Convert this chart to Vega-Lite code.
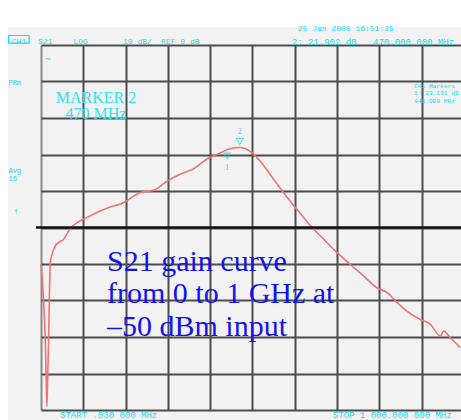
{
  "$schema": "https://vega.github.io/schema/vega-lite/v6.json",
  "autosize": {"type": "none"},
  "padding": {"left": 41, "top": 45, "right": 0, "bottom": 10},
  "width": 420,
  "height": 365,
  "background": "#f2f2f2",
  "config": {
    "view": {"stroke": null},
    "axis": {
      "grid": true,
      "labels": false,
      "ticks": false,
      "domain": false,
      "gridWidth": 2,
      "gridOpacity": 1,
      "labelOverlap": false
    }
  },
  "data": {"values": [{}]},
  "datasets": {
    "s21": [
      {"freq": 0.03, "gain": -10},
      {"freq": 2, "gain": -13},
      {"freq": 4.7, "gain": -17},
      {"freq": 7, "gain": -22},
      {"freq": 10, "gain": -30.6},
      {"freq": 12, "gain": -40},
      {"freq": 14, "gain": -49},
      {"freq": 16, "gain": -40},
      {"freq": 18, "gain": -30.6},
      {"freq": 20, "gain": -18},
      {"freq": 22, "gain": -9.6},
      {"freq": 27, "gain": -7},
      {"freq": 34, "gain": -5},
      {"freq": 43, "gain": -4},
      {"freq": 53, "gain": -3.3},
      {"freq": 65, "gain": -1},
      {"freq": 76, "gain": 0.5},
      {"freq": 85, "gain": 1.3},
      {"freq": 108, "gain": 2.7},
      {"freq": 140, "gain": 4.5},
      {"freq": 164, "gain": 5.6},
      {"freq": 195, "gain": 6.8},
      {"freq": 219, "gain": 8.6},
      {"freq": 235, "gain": 9.6},
      {"freq": 266, "gain": 10.2},
      {"freq": 298, "gain": 12.7},
      {"freq": 329, "gain": 14.6},
      {"freq": 361, "gain": 16.1},
      {"freq": 392, "gain": 18.7},
      {"freq": 416, "gain": 20.0},
      {"freq": 447, "gain": 21.6},
      {"freq": 470, "gain": 21.9},
      {"freq": 495, "gain": 20.8},
      {"freq": 518, "gain": 18.2},
      {"freq": 550, "gain": 13.2},
      {"freq": 573, "gain": 9.6},
      {"freq": 605, "gain": 5.0},
      {"freq": 641, "gain": 0},
      {"freq": 668, "gain": -3.2},
      {"freq": 700, "gain": -6.9},
      {"freq": 731, "gain": -10.1},
      {"freq": 763, "gain": -13.3},
      {"freq": 794, "gain": -16.5},
      {"freq": 818, "gain": -17.8},
      {"freq": 842, "gain": -20.6},
      {"freq": 865, "gain": -22.9},
      {"freq": 897, "gain": -25.2},
      {"freq": 920, "gain": -26.5},
      {"freq": 944, "gain": -29.7},
      {"freq": 952, "gain": -28.4},
      {"freq": 968, "gain": -30.2},
      {"freq": 991, "gain": -32.9}
    ]
  },
  "layer": [
    {
      "description": "S21 trace",
      "data": {"name": "s21"},
      "mark": {"type": "line", "color": "#f07474", "strokeWidth": 1.6, "interpolate": "monotone"},
      "encoding": {
        "x": {
          "field": "freq",
          "type": "quantitative",
          "title": null,
          "scale": {"domain": [0, 993], "nice": false, "zero": false},
          "axis": {
            "values": [0, 100, 200, 300, 400, 500, 600, 700, 800, 900],
            "gridColor": {"condition": {"test": "datum.value === 0", "value": "#8a8a8a"}, "value": "#4c4c4c"}
          }
        },
        "y": {
          "field": "gain",
          "type": "quantitative",
          "title": null,
          "scale": {"domain": [-50, 50], "nice": false, "zero": false},
          "axis": {
            "values": [-50, -40, -30, -20, -10, 0, 10, 20, 30, 40, 50],
            "tickCount": 11,
            "gridColor": "#4c4c4c"
          }
        }
      }
    },
    {
      "description": "white strip above the screen area",
      "mark": {"type": "rect", "color": "white", "clip": false},
      "encoding": {
        "x": {"datum": -120, "type": "quantitative", "title": null},
        "x2": {"datum": 1000},
        "y": {"datum": 54.9, "type": "quantitative", "title": null},
        "y2": {"datum": 70}
      }
    },
    {
      "description": "white strip left of the screen area",
      "mark": {"type": "rect", "color": "white", "clip": false},
      "encoding": {
        "x": {"datum": -120, "type": "quantitative", "title": null},
        "x2": {"datum": -78},
        "y": {"datum": -60, "type": "quantitative", "title": null},
        "y2": {"datum": 70}
      }
    },
    {
      "description": "reference level line at 0 dB",
      "mark": {"type": "rule", "color": "#111111", "strokeWidth": 2.5, "clip": false},
      "encoding": {
        "x": {"datum": -12, "type": "quantitative", "title": null},
        "x2": {"datum": 1000},
        "y": {"datum": 0, "type": "quantitative", "title": null}
      }
    },
    {
      "description": "marker 2 symbol",
      "mark": {"type": "point", "shape": "triangle-down", "filled": false, "color": "#22d8ee", "size": 45, "strokeWidth": 1.2},
      "encoding": {
        "x": {"datum": 470, "type": "quantitative", "title": null},
        "y": {"datum": 23.6, "type": "quantitative", "title": null}
      }
    },
    {
      "description": "marker 1 symbol",
      "mark": {"type": "point", "shape": "triangle-down", "filled": false, "color": "#22d8ee", "size": 40, "strokeWidth": 1.2},
      "encoding": {
        "x": {"datum": 440, "type": "quantitative", "title": null},
        "y": {"datum": 19.6, "type": "quantitative", "title": null}
      }
    },
    {
      "mark": {"type": "text", "text": "2", "color": "#22d8ee", "font": "Liberation Serif", "fontSize": 8, "align": "center"},
      "encoding": {
        "x": {"datum": 470, "type": "quantitative", "title": null},
        "y": {"datum": 26.2, "type": "quantitative", "title": null}
      }
    },
    {
      "mark": {"type": "text", "text": "1", "color": "#22d8ee", "font": "Liberation Serif", "fontSize": 8, "align": "center"},
      "encoding": {
        "x": {"datum": 440, "type": "quantitative", "title": null},
        "y": {"datum": 16.2, "type": "quantitative", "title": null}
      }
    },
    {
      "mark": {"type": "text", "text": ["MARKER 2", "470 MHz"], "lineHeight": 16.5, "color": "#2ee2f0", "font": "Liberation Serif", "fontSize": 16, "align": "center"},
      "encoding": {
        "x": {"datum": 130, "type": "quantitative", "title": null},
        "y": {"datum": 35.5, "type": "quantitative", "title": null}
      }
    },
    {
      "mark": {"type": "text", "text": ["S21 gain curve", "from 0 to 1 GHz at", "–50 dBm input"], "lineHeight": 32.5, "color": "#1212f0", "font": "Liberation Serif", "fontSize": 30, "align": "left"},
      "encoding": {
        "x": {"datum": 156, "type": "quantitative", "title": null},
        "y": {"datum": -9.45, "type": "quantitative", "title": null}
      }
    },
    {
      "description": "CH1 badge",
      "mark": {"type": "rect", "filled": false, "stroke": "#22d8ee", "strokeWidth": 1.2, "clip": false},
      "encoding": {
        "x": {"datum": -77, "type": "quantitative", "title": null},
        "x2": {"datum": -28},
        "y": {"datum": 52.6, "type": "quantitative", "title": null},
        "y2": {"datum": 50.5}
      }
    },
    {
      "mark": {"type": "text", "text": "CH1", "color": "#22d8ee", "font": "Liberation Mono", "fontSize": 8, "align": "center"},
      "encoding": {
        "x": {"datum": -52, "type": "quantitative", "title": null},
        "y": {"datum": 50.9, "type": "quantitative", "title": null}
      }
    },
    {
      "mark": {"type": "text", "text": "S21", "color": "#22d8ee", "font": "Liberation Mono", "fontSize": 8, "align": "left"},
      "encoding": {
        "x": {"datum": -7, "type": "quantitative", "title": null},
        "y": {"datum": 50.9, "type": "quantitative", "title": null}
      }
    },
    {
      "mark": {"type": "text", "text": "LOG", "color": "#22d8ee", "font": "Liberation Mono", "fontSize": 8, "align": "left"},
      "encoding": {
        "x": {"datum": 76, "type": "quantitative", "title": null},
        "y": {"datum": 50.9, "type": "quantitative", "title": null}
      }
    },
    {
      "mark": {"type": "text", "text": "10 dB/", "color": "#22d8ee", "font": "Liberation Mono", "fontSize": 8, "align": "left"},
      "encoding": {
        "x": {"datum": 194, "type": "quantitative", "title": null},
        "y": {"datum": 50.9, "type": "quantitative", "title": null}
      }
    },
    {
      "mark": {"type": "text", "text": "REF 0 dB", "color": "#22d8ee", "font": "Liberation Mono", "fontSize": 8, "align": "left"},
      "encoding": {
        "x": {"datum": 284, "type": "quantitative", "title": null},
        "y": {"datum": 50.9, "type": "quantitative", "title": null}
      }
    },
    {
      "mark": {"type": "text", "text": "2: 21.902 dB", "color": "#22d8ee", "font": "Liberation Mono", "fontSize": 9, "align": "left"},
      "encoding": {
        "x": {"datum": 593, "type": "quantitative", "title": null},
        "y": {"datum": 50.9, "type": "quantitative", "title": null}
      }
    },
    {
      "mark": {"type": "text", "text": "470.000 000 MHz", "color": "#22d8ee", "font": "Liberation Mono", "fontSize": 9, "align": "left"},
      "encoding": {
        "x": {"datum": 785, "type": "quantitative", "title": null},
        "y": {"datum": 50.9, "type": "quantitative", "title": null}
      }
    },
    {
      "mark": {"type": "text", "text": "25 Jan 2000 16:51:25", "color": "#22d8ee", "font": "Liberation Mono", "fontSize": 8, "align": "left"},
      "encoding": {
        "x": {"datum": 607, "type": "quantitative", "title": null},
        "y": {"datum": 54.3, "type": "quantitative", "title": null}
      }
    },
    {
      "mark": {"type": "text", "text": "PRm", "color": "#22d8ee", "font": "Liberation Mono", "fontSize": 7, "align": "left"},
      "encoding": {
        "x": {"datum": -77, "type": "quantitative", "title": null},
        "y": {"datum": 39.6, "type": "quantitative", "title": null}
      }
    },
    {
      "mark": {"type": "text", "text": ["Avg", "16"], "lineHeight": 8, "color": "#22d8ee", "font": "Liberation Mono", "fontSize": 7, "align": "left"},
      "encoding": {
        "x": {"datum": -77, "type": "quantitative", "title": null},
        "y": {"datum": 15.4, "type": "quantitative", "title": null}
      }
    },
    {
      "mark": {"type": "text", "text": "↑", "color": "#22d8ee", "font": "DejaVu Sans", "fontSize": 6, "align": "center"},
      "encoding": {
        "x": {"datum": -59, "type": "quantitative", "title": null},
        "y": {"datum": 4.2, "type": "quantitative", "title": null}
      }
    },
    {
      "mark": {"type": "text", "text": "~", "color": "#22d8ee", "font": "DejaVu Sans", "fontSize": 8, "align": "center"},
      "encoding": {
        "x": {"datum": 17, "type": "quantitative", "title": null},
        "y": {"datum": 46, "type": "quantitative", "title": null}
      }
    },
    {
      "mark": {"type": "text", "text": ["CH1 Markers", "", "1: 23.131 dB", "440.000 MHz"], "lineHeight": 7.5, "color": "#22d8ee", "font": "Liberation Mono", "fontSize": 6.2, "align": "left"},
      "encoding": {
        "x": {"datum": 882, "type": "quantitative", "title": null},
        "y": {"datum": 38.8, "type": "quantitative", "title": null}
      }
    },
    {
      "mark": {"type": "text", "text": "START .030 000 MHz", "color": "#22d8ee", "font": "Liberation Mono", "fontSize": 9, "align": "left", "baseline": "alphabetic"},
      "encoding": {
        "x": {"datum": 45, "type": "quantitative", "title": null},
        "y": {"datum": -52.1, "type": "quantitative", "title": null}
      }
    },
    {
      "mark": {"type": "text", "text": "STOP 1 000.000 000 MHz", "color": "#22d8ee", "font": "Liberation Mono", "fontSize": 9, "align": "left", "baseline": "alphabetic"},
      "encoding": {
        "x": {"datum": 690, "type": "quantitative", "title": null},
        "y": {"datum": -52.1, "type": "quantitative", "title": null}
      }
    }
  ]
}
